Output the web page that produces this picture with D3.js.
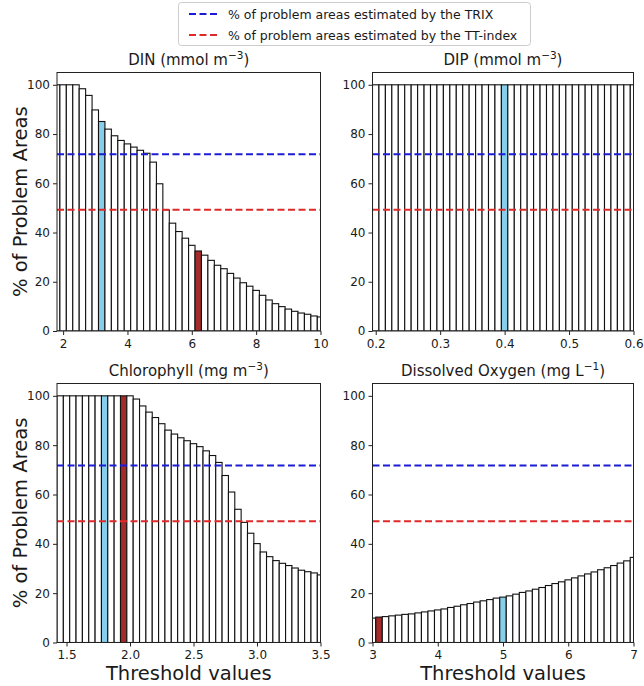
<!DOCTYPE html>
<html><head><meta charset="utf-8">
<script src="https://cdn.jsdelivr.net/npm/d3@7"></script>
<style>body{margin:0;background:#fff}svg{font-family:"DejaVu Sans",sans-serif}</style>
</head><body>
<svg id="c" width="644" height="686"></svg>
<script>
// ---------- data ----------
const dinX = [1.8,2.0,2.2,2.4,2.6,2.8,3.0,3.2,3.4,3.6,3.8,4.0,4.2,4.4,4.6,4.8,5.0,5.2,5.4,5.6,5.8,6.0,6.2,6.4,6.6,6.8,7.0,7.2,7.4,7.6,7.8,8.0,8.2,8.4,8.6,8.8,9.0,9.2,9.4,9.6,9.8,10.0];
const dinY = [100,100,100,100,98.4,95.7,89.8,85.1,82.0,79.3,77.4,76.0,74.7,73.4,72.2,68.6,59.8,49.2,43.8,40.4,37.7,34.8,32.5,30.8,28.7,26.7,25.3,23.4,21.5,19.6,18.2,16.5,14.5,12.6,11.1,9.9,8.9,8.0,7.3,6.8,6.1,5.7];
const dipX = [0.20,0.21,0.22,0.23,0.24,0.25,0.26,0.27,0.28,0.29,0.30,0.31,0.32,0.33,0.34,0.35,0.36,0.37,0.38,0.39,0.40,0.41,0.42,0.43,0.44,0.45,0.46,0.47,0.48,0.49,0.50,0.51,0.52,0.53,0.54,0.55,0.56,0.57,0.58,0.59,0.60];
const dipY = [100,100,100,100,100,100,100,100,100,100,100,100,100,100,100,100,100,100,100,100,100,100,100,100,100,100,100,100,100,100,100,100,100,100,100,100,100,100,100,100,100];
const chlX = [1.45,1.5,1.55,1.6,1.65,1.7,1.75,1.8,1.85,1.9,1.95,2.0,2.05,2.1,2.15,2.2,2.25,2.3,2.35,2.4,2.45,2.5,2.55,2.6,2.65,2.7,2.75,2.8,2.85,2.9,2.95,3.0,3.05,3.1,3.15,3.2,3.25,3.3,3.35,3.4,3.45,3.5];
const chlY = [100,100,100,100,100,100,100,100,100,100,100,100,98.7,95.9,93.4,91.2,88.7,86.1,84.5,83.0,81.8,80.6,79.4,77.7,75.8,73.0,67.7,61.0,54.0,48.7,44.3,40.1,36.7,34.8,33.2,32.1,31.2,30.2,29.3,28.7,28.2,27.4];
const doX = [3.0,3.1,3.2,3.3,3.4,3.5,3.6,3.7,3.8,3.9,4.0,4.1,4.2,4.3,4.4,4.5,4.6,4.7,4.8,4.9,5.0,5.1,5.2,5.3,5.4,5.5,5.6,5.7,5.8,5.9,6.0,6.1,6.2,6.3,6.4,6.5,6.6,6.7,6.8,6.9,7.0];
const doY = [9.9,10.3,10.5,10.8,11.1,11.4,11.6,12.0,12.4,12.8,13.2,13.6,14.2,14.7,15.3,15.8,16.4,16.9,17.4,18.0,18.4,18.9,19.6,20.3,20.9,21.6,22.3,23.1,23.9,24.6,25.4,26.2,27.0,27.8,28.6,29.5,30.3,31.2,32.2,33.1,34.5];

const dinTicks = [2,4,6,8,10];
const dipTicks = [0.2,0.3,0.4,0.5,0.6];
const chlTicks = [1.5,2.0,2.5,3.0,3.5];
const doTicks = [3,4,5,6,7];
const yTicks = [0,20,40,60,80,100];

const trixPct = 71.8;
const ttPct = 49.2;

const titles = [
  ["DIN (mmol m", "\u22123", ")"],
  ["DIP (mmol m", "\u22123", ")"],
  ["Chlorophyll (mg m", "\u22123", ")"],
  ["Dissolved Oxygen (mg L", "\u22121", ")"]
];
const legendLabels = ["% of problem areas estimated by the TRIX", "% of problem areas estimated by the TT-index"];
const yLabel = "% of Problem Areas";
const xLabel = "Threshold values";

// highlighted thresholds
const blueAt = [3.2, 0.4, 1.8, 5.0];
const redAt = [6.2, null, 1.95, 3.1];

// ---------- layout ----------
const svg = d3.select("#c");
const colX = [[57, 320.5], [372.5, 633.5]];
const rowY = [[72.5, 331], [383.5, 642.5]];
const C_BLUE = "#87ceeb", C_RED = "#a52a2a", L_BLUE = "#1c1cd6", L_RED = "#e02a2a";

const panels = [
  {x: dinX, y: dinY, ticks: dinTicks, dom: [1.81, 10.0], w: 0.2, fmt: d3.format("d")},
  {x: dipX, y: dipY, ticks: dipTicks, dom: [0.195, 0.6], w: 0.01, fmt: d3.format(".1f")},
  {x: chlX, y: chlY, ticks: chlTicks, dom: [1.425, 3.5], w: 0.05, fmt: d3.format(".1f")},
  {x: doX, y: doY, ticks: doTicks, dom: [3.0, 7.0], w: 0.1, fmt: d3.format("d")}
];

panels.forEach((p, i) => {
  const c = i % 2, r = Math.floor(i / 2);
  const [x0, x1] = colX[c], [y0, y1] = rowY[r];
  const xs = d3.scaleLinear().domain(p.dom).range([x0, x1]);
  const ys = d3.scaleLinear().domain([0, 105]).range([y1, y0]);
  const g = svg.append("g");
  const cid = "clip" + i;
  g.append("clipPath").attr("id", cid).append("rect")
    .attr("x", x0).attr("y", y0).attr("width", x1 - x0).attr("height", y1 - y0);
  const bars = g.append("g").attr("clip-path", `url(#${cid})`);
  const data = p.x.map((v, k) => ({v, h: p.y[k]}));
  bars.selectAll("rect").data(data).join("rect")
    .attr("x", d => xs(d.v - p.w / 2))
    .attr("width", d => xs(d.v + p.w / 2) - xs(d.v - p.w / 2))
    .attr("y", d => ys(d.h))
    .attr("height", d => ys(0) - ys(d.h))
    .attr("fill", d => {
      if (blueAt[i] !== null && Math.abs(d.v - blueAt[i]) < 1e-9) return C_BLUE;
      if (redAt[i] !== null && Math.abs(d.v - redAt[i]) < 1e-9) return C_RED;
      return "#fff";
    })
    .attr("stroke", "#111").attr("stroke-width", 1.1);
  // reference lines
  [[trixPct, L_BLUE], [ttPct, L_RED]].forEach(([v, col]) => {
    g.append("line").attr("x1", x0).attr("x2", x1).attr("y1", ys(v)).attr("y2", ys(v))
      .attr("stroke", col).attr("stroke-width", 2).attr("stroke-dasharray", "7,3.5");
  });
  // frame
  g.append("rect").attr("x", x0).attr("y", y0).attr("width", x1 - x0).attr("height", y1 - y0)
    .attr("fill", "none").attr("stroke", "#222").attr("stroke-width", 1);
  // axes
  const xa = g.append("g").attr("transform", `translate(0,${y1})`)
    .call(d3.axisBottom(xs).tickValues(p.ticks).tickFormat(p.fmt).tickSize(4).tickPadding(4));
  const ya = g.append("g").attr("transform", `translate(${x0},0)`)
    .call(d3.axisLeft(ys).tickValues(yTicks).tickSize(4).tickPadding(3));
  [xa, ya].forEach(a => {
    a.select(".domain").remove();
    a.selectAll("text").attr("font-size", 12).attr("fill", "#1a1a1a").attr("font-family", "DejaVu Sans");
    a.selectAll("line").attr("stroke", "#222");
  });
  // title
  const t = g.append("text").attr("x", (x0 + x1) / 2).attr("y", y0 - 8)
    .attr("text-anchor", "middle").attr("font-size", 15).attr("fill", "#1a1a1a");
  t.append("tspan").text(titles[i][0]);
  t.append("tspan").attr("dy", -6).attr("font-size", 10.5).text(titles[i][1]);
  t.append("tspan").attr("dy", 6).text(titles[i][2]);
  // y label
  if (c === 0) {
    svg.append("text").attr("transform", `translate(27,${(y0 + y1) / 2}) rotate(-90)`)
      .attr("text-anchor", "middle").attr("font-size", 19.5).attr("fill", "#1a1a1a").text(yLabel);
  }
  if (r === 1) {
    svg.append("text").attr("x", (x0 + x1) / 2).attr("y", 680)
      .attr("text-anchor", "middle").attr("font-size", 19.5).attr("fill", "#1a1a1a").text(xLabel);
  }
});

// legend
const lg = svg.append("g");
lg.append("rect").attr("x", 178.5).attr("y", 2.5).attr("width", 352).attr("height", 43).attr("rx", 3)
  .attr("fill", "#fff").attr("stroke", "#ccc");
[[L_BLUE, legendLabels[0], 14], [L_RED, legendLabels[1], 35]].forEach(([col, lab, y]) => {
  lg.append("line").attr("x1", 189).attr("x2", 219).attr("y1", y).attr("y2", y)
    .attr("stroke", col).attr("stroke-width", 2).attr("stroke-dasharray", "7,3.5");
  lg.append("text").attr("x", 228).attr("y", y + 4.5).attr("font-size", 12.5).attr("fill", "#1a1a1a").text(lab);
});
</script>
</body></html>
